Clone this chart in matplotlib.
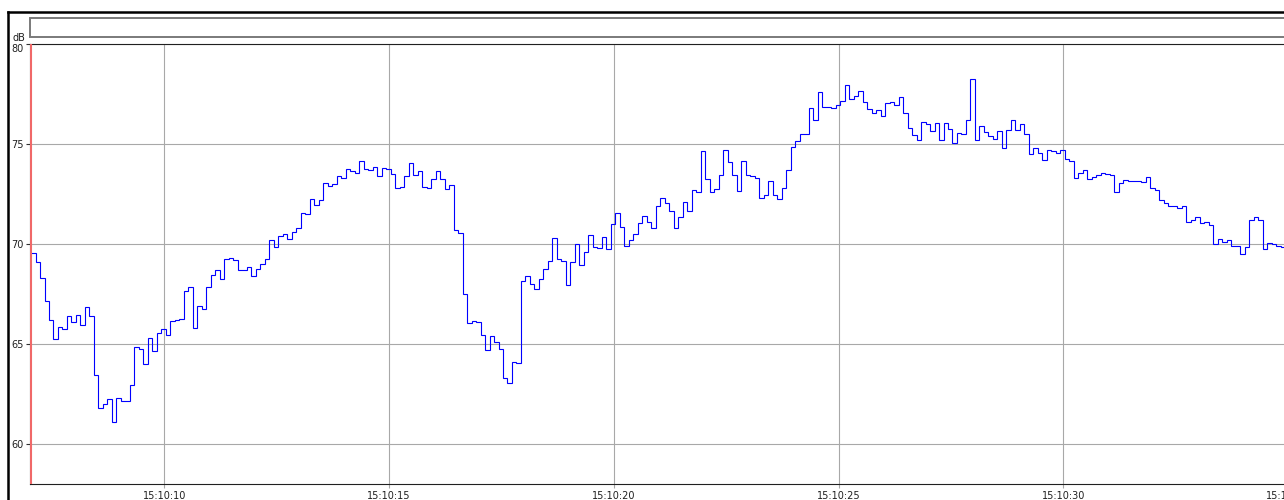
import numpy as np
import matplotlib
matplotlib.use("Agg")
import matplotlib.pyplot as plt
from matplotlib.lines import Line2D
from matplotlib.patches import Rectangle
from matplotlib.ticker import FuncFormatter

# ── data: sound level (dB), one sample every 0.1 s starting 15:10:07.03 ──
t_start = 7.035          # seconds after 15:10:00
dt = 0.1
level_db = [
    69.53, 69.08, 68.32, 67.15, 66.22, 65.27, 65.87, 65.77, 66.40, 66.08,
    66.43, 65.93, 66.85, 66.42, 63.45, 61.78, 61.98, 62.27, 61.08, 62.32,
    62.13, 62.13, 62.95, 64.83, 64.73, 63.98, 65.32, 64.63, 65.57, 65.73,
    65.45, 66.17, 66.20, 66.23, 67.67, 67.87, 65.82, 66.90, 66.77, 67.85,
    68.47, 68.68, 68.27, 69.23, 69.30, 69.20, 68.70, 68.70, 68.87, 68.40,
    68.73, 68.98, 69.23, 70.18, 69.85, 70.40, 70.48, 70.27, 70.60, 70.82,
    71.55, 71.50, 72.23, 71.95, 72.18, 73.03, 72.92, 72.98, 73.42, 73.32,
    73.77, 73.67, 73.55, 74.17, 73.77, 73.72, 73.87, 73.42, 73.82, 73.77,
    73.50, 72.82, 72.85, 73.42, 74.03, 73.43, 73.67, 72.85, 72.80, 73.27,
    73.67, 73.27, 72.77, 72.95, 70.68, 70.53, 67.50, 66.07, 66.17, 66.12,
    65.47, 64.68, 65.40, 65.08, 64.73, 63.28, 63.05, 64.08, 64.05, 68.13,
    68.40, 67.98, 67.73, 68.23, 68.73, 69.13, 70.32, 69.25, 69.17, 67.95,
    69.08, 69.98, 68.95, 69.58, 70.43, 69.87, 69.82, 70.37, 69.73, 70.98,
    71.53, 70.87, 69.92, 70.20, 70.48, 71.05, 71.40, 71.08, 70.80, 71.90,
    72.28, 72.07, 71.63, 70.80, 71.33, 72.08, 71.63, 72.68, 72.58, 74.65,
    73.23, 72.58, 72.77, 73.43, 74.72, 74.08, 73.45, 72.67, 74.15, 73.45,
    73.40, 73.28, 72.32, 72.43, 73.13, 72.43, 72.23, 72.82, 73.70, 74.83,
    75.17, 75.50, 75.50, 76.80, 76.22, 77.58, 76.83, 76.85, 76.80, 76.95,
    77.17, 77.93, 77.23, 77.42, 77.67, 77.08, 76.73, 76.57, 76.70, 76.40,
    77.03, 77.08, 76.97, 77.37, 76.55, 75.78, 75.45, 75.18, 76.08, 76.02,
    75.65, 76.03, 75.18, 76.03, 75.73, 75.05, 75.53, 75.52, 76.18, 78.27,
    75.18, 75.92, 75.60, 75.38, 75.23, 75.63, 74.82, 75.68, 76.18, 75.72,
    76.02, 75.48, 74.50, 74.82, 74.53, 74.20, 74.68, 74.67, 74.53, 74.70,
    74.27, 74.13, 73.30, 73.53, 73.72, 73.27, 73.33, 73.45, 73.57, 73.52,
    73.45, 72.60, 73.05, 73.20, 73.17, 73.13, 73.17, 73.12, 73.37, 72.82,
    72.72, 72.18, 72.07, 71.92, 71.88, 71.82, 71.90, 71.10, 71.20, 71.35,
    71.07, 71.10, 70.97, 69.98, 70.27, 70.10, 70.18, 69.90, 69.90, 69.50,
    69.87, 71.22, 71.37, 71.22, 69.73, 70.07, 69.98, 69.92, 69.87, 69.20,
]
x_ticks = [10, 15, 20, 25, 30, 35]
y_ticks = [60, 65, 70, 75, 80]

W, H = 1284, 500
fig = plt.figure(figsize=(W / 100, H / 100), dpi=100)
fig.patch.set_facecolor("white")
plt.rcParams["font.family"] = "DejaVu Sans"

def fx(px):  # pixel -> figure fraction
    return px / W

def fy(py):
    return 1 - py / H

# plot area: left 30 px, top 44 px, bottom 484 px, runs past right edge
px_per_s = 44.95
ax_left, ax_right = 30, 1300
ax = fig.add_axes([fx(ax_left), fy(484), (ax_right - ax_left) / W, 440 / H])
x0 = 10 - (164.3 - ax_left) / px_per_s
ax.set_xlim(x0, x0 + (ax_right - ax_left) / px_per_s)
ax.set_ylim(58, 80)

edges = t_start + dt * np.arange(len(level_db) + 1)
ax.stairs(level_db, edges, color="#0000ff", lw=0.8, baseline=None, zorder=3)
ax.axvline(t_start, color="#f06868", lw=1.5, zorder=4)

ax.set_xticks(x_ticks)
ax.set_yticks(y_ticks)
ax.xaxis.set_major_formatter(FuncFormatter(lambda v, p: f"15:10:{int(v):02d}"))
ax.grid(True, color="#a8a8a8", lw=0.8)
ax.set_axisbelow(True)
ax.tick_params(axis="x", length=3, width=0.8, color="#a8a8a8", pad=2,
               labelsize=7, labelcolor="#202020")
ax.tick_params(axis="y", length=3, width=0.8, color="#303030", pad=1.5,
               labelsize=7, labelcolor="#202020")
ax.get_yticklabels()[-1].set_va("top")
for s in ["left", "top", "bottom"]:
    ax.spines[s].set_color("#202020")
    ax.spines[s].set_linewidth(0.8)
ax.spines["right"].set_visible(False)

fig.text(fx(19), fy(41), "dB", fontsize=7, ha="center", va="baseline", color="#202020")

# outer window frame and empty header box
fig.add_artist(Line2D([fx(8), fx(8)], [fy(12), 0], color="black", lw=1.8,
                      transform=fig.transFigure))
fig.add_artist(Line2D([fx(8), 1], [fy(12), fy(12)], color="black", lw=1.8,
                      transform=fig.transFigure))
fig.add_artist(Rectangle((fx(29.5), fy(36.5)), fx(1300) - fx(29.5), fy(17.5) - fy(36.5),
                         facecolor="white", edgecolor="#7a7a7a", lw=1.4,
                         transform=fig.transFigure))

fig.savefig("out.png", dpi=100, facecolor="white")
